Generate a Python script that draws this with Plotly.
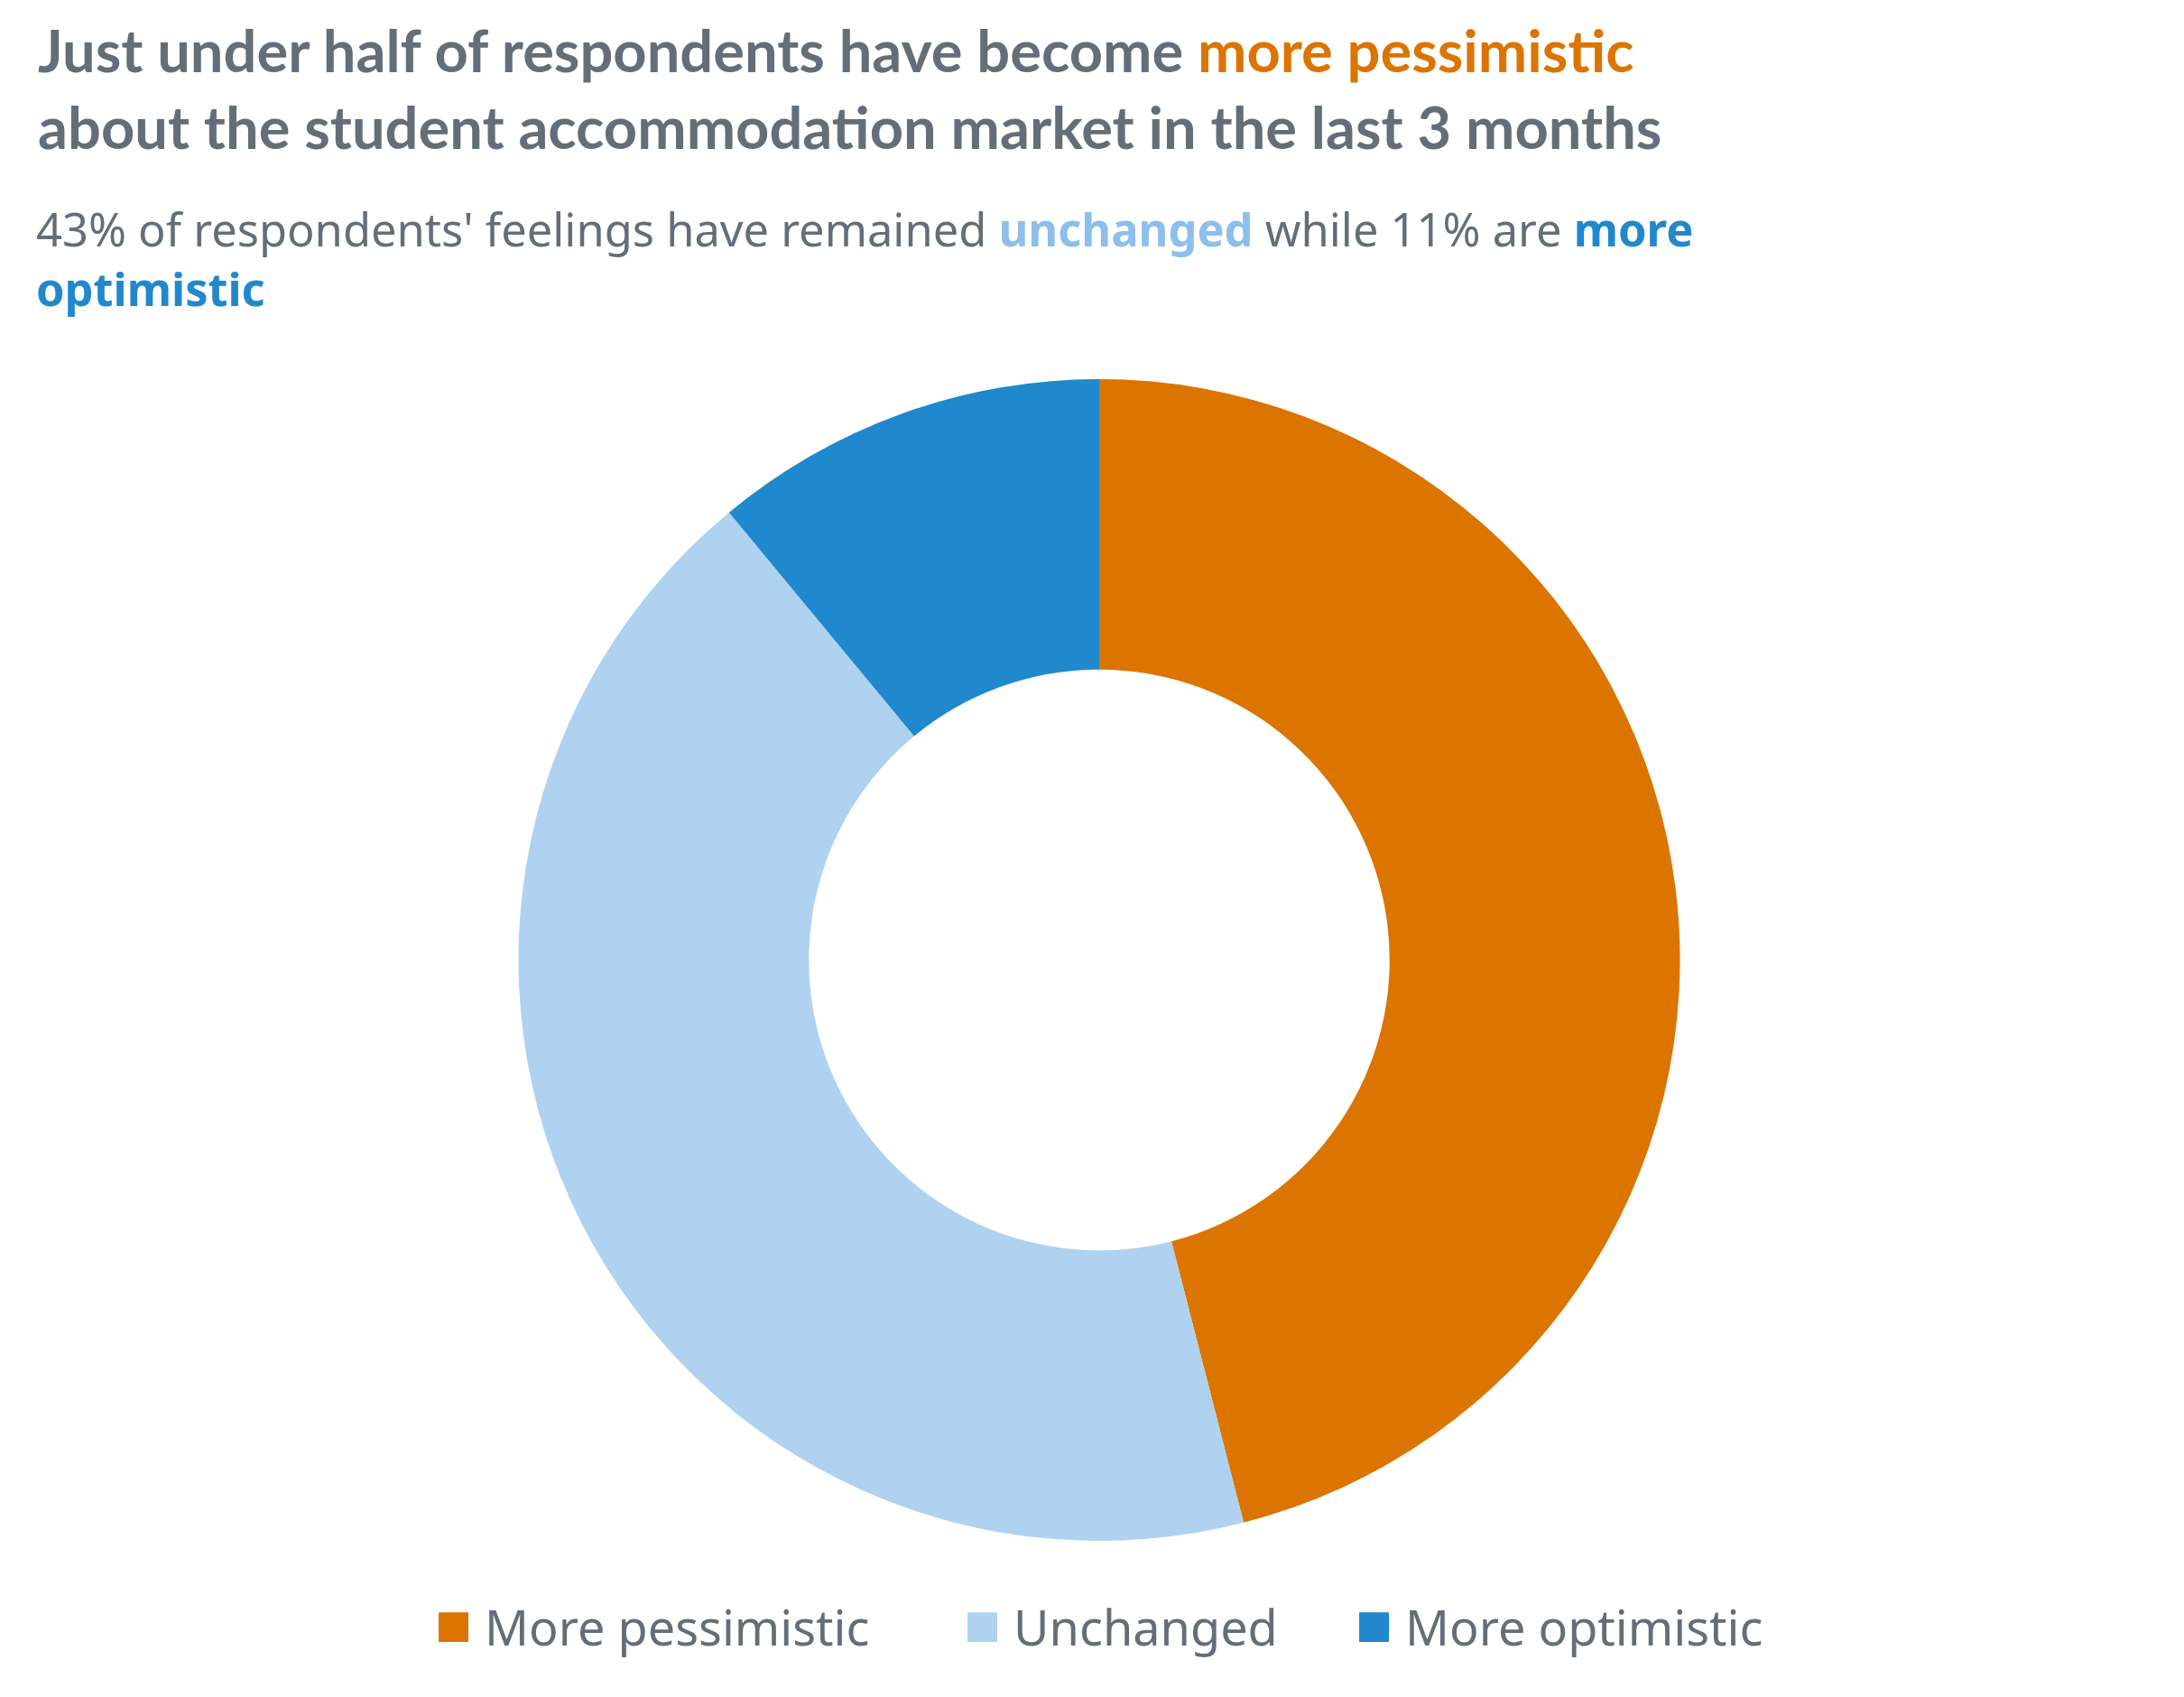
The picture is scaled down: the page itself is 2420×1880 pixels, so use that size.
import plotly.graph_objects as go

# survey shares (%)
labels = ["More pessimistic", "Unchanged", "More optimistic"]
values = [46, 43, 11]
colors = ["#DC7400", "#AFD2F0", "#2088CC"]

text_grey = "#646E78"

W, H = 2420, 1880
ml, mr, mt, mb = 0, 0, 412, 181

fig = go.Figure()
fig.add_trace(go.Pie(
    labels=labels,
    values=values,
    hole=0.5,
    sort=False,
    direction="clockwise",
    rotation=0,
    marker=dict(colors=colors, line=dict(width=0)),
    textinfo="none",
    hoverinfo="label+percent",
    showlegend=False,
))

title = ("<b>Just under half of respondents have become "
         "<span style='color:#DC7400'>more pessimistic</span><br>"
         "about the student accommodation market in the last 3 months</b>")
subtitle = ("43% of respondents' feelings have remained "
            "<b><span style='color:#8CBFEB'>unchanged</span></b> while 11% are "
            "<b><span style='color:#2088CC'>more</span></b><br>"
            "<b><span style='color:#2088CC'>optimistic</span></b>")

fig.update_layout(
    width=W, height=H,
    margin=dict(l=ml, r=mr, t=mt, b=mb),
    paper_bgcolor="white",
    plot_bgcolor="white",
    font=dict(family="Noto Sans", color=text_grey),
)

def px_x(p):
    return (p - ml) / (W - ml - mr)

def px_y(p):
    return (H - mb - p) / (H - mt - mb)

fig.add_annotation(
    text=title, showarrow=False, align="left",
    xref="paper", yref="paper", x=px_x(32), y=px_y(89),
    xanchor="left", yanchor="middle",
    font=dict(family="Lato", size=65, color=text_grey),
)

fig.add_annotation(
    text=subtitle, showarrow=False, align="left",
    xref="paper", yref="paper", x=px_x(30), y=px_y(278),
    xanchor="left", yanchor="middle",
    font=dict(family="Noto Sans", size=50.6, color=text_grey),
)

# legend drawn as text rows with coloured squares
legend_x = [472, 1058, 1492]
for lab, col, lx in zip(labels, colors, legend_x):
    fig.add_annotation(
        text="<span style='color:%s;font-size:68px'>■</span> %s" % (col, lab),
        showarrow=False, xref="paper", yref="paper",
        x=px_x(lx), y=px_y(1788), xanchor="left", yanchor="middle",
        font=dict(family="Noto Sans", size=54, color=text_grey),
    )

fig.write_html("out.html")
